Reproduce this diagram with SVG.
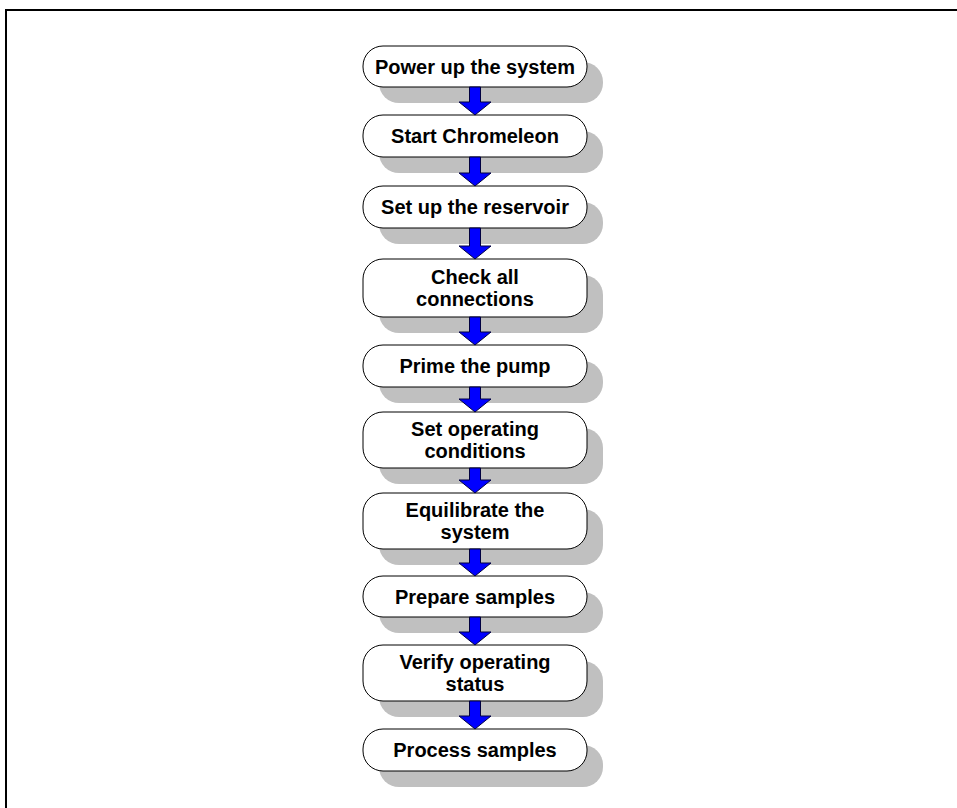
<svg xmlns="http://www.w3.org/2000/svg" width="957" height="808" viewBox="0 0 957 808">
<style>
.sh{fill:#c0c0c0;stroke:none}
.nd{fill:#ffffff;stroke:#000000;stroke-width:1}
.tx{font-family:"Liberation Sans",Arial,sans-serif;font-weight:bold;font-size:20px;fill:#000000;text-anchor:middle}
.ar{fill:#0000ff;stroke:#000040;stroke-width:1;stroke-linejoin:miter}
</style>
<rect width="957" height="808" fill="#ffffff"/>
<path d="M6 808 V10 H957" fill="none" stroke="#000000" stroke-width="2"/>
<g id="shadows">
<rect class="sh" x="379" y="62" width="224" height="41" rx="20"/>
<rect class="sh" x="379" y="131" width="224" height="42" rx="20"/>
<rect class="sh" x="379" y="202" width="224" height="42" rx="20"/>
<rect class="sh" x="379" y="275" width="224" height="58" rx="20"/>
<rect class="sh" x="379" y="361" width="224" height="42" rx="20"/>
<rect class="sh" x="379" y="428" width="224" height="56" rx="20"/>
<rect class="sh" x="379" y="509" width="224" height="56" rx="20"/>
<rect class="sh" x="379" y="592" width="224" height="41" rx="20"/>
<rect class="sh" x="379" y="661" width="224" height="56" rx="20"/>
<rect class="sh" x="379" y="745" width="224" height="42" rx="20"/>
</g>
<g id="n1"><rect class="nd" x="363" y="46" width="224" height="41" rx="20"/><text class="tx" x="475" y="73.5">Power up the system</text></g>
<g id="n2"><rect class="nd" x="363" y="115" width="224" height="42" rx="20"/><text class="tx" x="475" y="143">Start Chromeleon</text></g>
<g id="n3"><rect class="nd" x="363" y="186" width="224" height="42" rx="20"/><text class="tx" x="475" y="214">Set up the reservoir</text></g>
<g id="n4"><rect class="nd" x="363" y="259" width="224" height="58" rx="20"/><text class="tx" x="475" y="284">Check all</text><text class="tx" x="475" y="306">connections</text></g>
<g id="n5"><rect class="nd" x="363" y="345" width="224" height="42" rx="20"/><text class="tx" x="475" y="373">Prime the pump</text></g>
<g id="n6"><rect class="nd" x="363" y="412" width="224" height="56" rx="20"/><text class="tx" x="475" y="436">Set operating</text><text class="tx" x="475" y="458">conditions</text></g>
<g id="n7"><rect class="nd" x="363" y="493" width="224" height="56" rx="20"/><text class="tx" x="475" y="517">Equilibrate the</text><text class="tx" x="475" y="539">system</text></g>
<g id="n8"><rect class="nd" x="363" y="576" width="224" height="41" rx="20"/><text class="tx" x="475" y="603.5">Prepare samples</text></g>
<g id="n9"><rect class="nd" x="363" y="645" width="224" height="56" rx="20"/><text class="tx" x="475" y="669">Verify operating</text><text class="tx" x="475" y="691">status</text></g>
<g id="n10"><rect class="nd" x="363" y="729" width="224" height="42" rx="20"/><text class="tx" x="475" y="757">Process samples</text></g>
<g id="connectors">
<path class="ar" d="M469.5 87 H480.5 V102 H491 L475 115 L459 102 H469.5 Z"/>
<path class="ar" d="M469.5 157 H480.5 V173 H491 L475 186 L459 173 H469.5 Z"/>
<path class="ar" d="M469.5 228 H480.5 V246 H491 L475 259 L459 246 H469.5 Z"/>
<path class="ar" d="M469.5 317 H480.5 V332 H491 L475 345 L459 332 H469.5 Z"/>
<path class="ar" d="M469.5 387 H480.5 V399 H491 L475 412 L459 399 H469.5 Z"/>
<path class="ar" d="M469.5 468 H480.5 V480 H491 L475 493 L459 480 H469.5 Z"/>
<path class="ar" d="M469.5 549 H480.5 V563 H491 L475 576 L459 563 H469.5 Z"/>
<path class="ar" d="M469.5 617 H480.5 V632 H491 L475 645 L459 632 H469.5 Z"/>
<path class="ar" d="M469.5 701 H480.5 V716 H491 L475 729 L459 716 H469.5 Z"/>
</g>
</svg>
